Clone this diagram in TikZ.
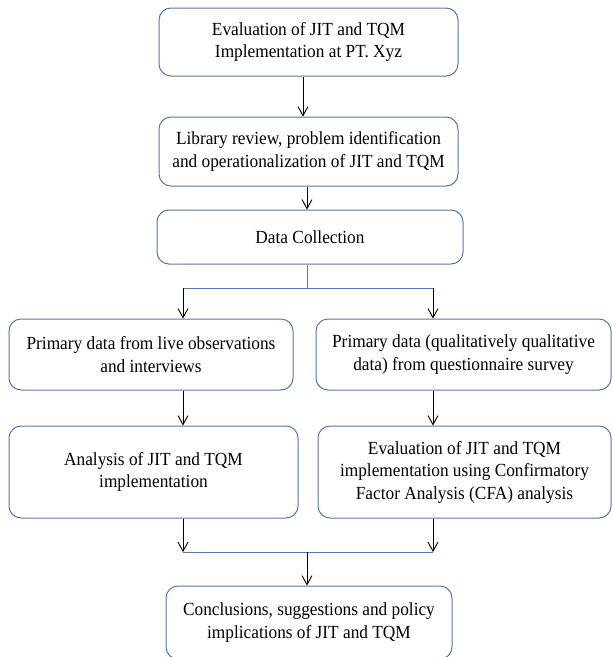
\documentclass[tikz,border=0pt]{standalone}
\usepackage{fontspec}
\newfontfamily\diagfont[FakeStretch=0.935]{Liberation Serif}
\usetikzlibrary{arrows.meta}
\definecolor{boxblue}{RGB}{84,120,170}
\begin{document}
\begin{tikzpicture}[x=1pt,y=-1pt,
  box/.style={draw=boxblue, line width=1pt, rounded corners=12pt, fill=white, align=center, inner sep=0pt, font=\diagfont\fontsize{18.5}{22.5}\selectfont},
  arr/.style={draw=black, line width=0.9pt, -{Straight Barb[length=9pt,width=10pt]}},
  bline/.style={draw=boxblue, line width=1pt}]
\useasboundingbox (0,0) rectangle (612,657);
\clip (0,0) rectangle (612,657);
\node[box, minimum width=299pt, minimum height=68pt] (b1) at (308.5,42) {Evaluation of JIT and TQM\\Implementation at PT. Xyz};
\node[box, minimum width=299pt, minimum height=69pt] (b2) at (308.5,151.5) {Library review, problem identification\\and operationalization of JIT and TQM};
\node[box, minimum width=306pt, minimum height=54pt] (b3) at (310,237) {Data Collection};
\node[box, minimum width=284pt, minimum height=71pt] (l1) at (151,354.5) {Primary data from live observations\\and interviews};
\node[box, minimum width=295pt, minimum height=71pt] (r1) at (463.5,354.5) {Primary data (qualitatively qualitative\\data) from questionnaire survey};
\node[box, minimum width=289pt, minimum height=92pt] (l2) at (153.5,472) {Analysis of JIT and TQM\\implementation};
\node[box, minimum width=293pt, minimum height=92pt] (r2) at (464.5,472) {Evaluation of JIT and TQM\\implementation using Confirmatory\\Factor Analysis (CFA) analysis};
\node[box, minimum width=286pt, minimum height=73pt] (b4) at (309,622.5) {Conclusions, suggestions and policy\\implications of JIT and TQM};

\draw[arr] ([xshift=-5.5pt]b1.south) -- ([xshift=-5.5pt]b1.south |- b2.north);
\draw[arr] ([xshift=-1.5pt]b2.south) -- ([xshift=-1.5pt]b2.south |- b3.north);

\coordinate (split) at (307,288);
\coordinate (sl) at (183,288);
\coordinate (sr) at (433,288);
\draw[bline] ([xshift=-3pt]b3.south) -- (split);
\draw[bline] (sl) -- (sr);
\draw[arr] (sl) -- (sl |- l1.north);
\draw[arr] (sr) -- (sr |- r1.north);
\draw[arr] (sl |- l1.south) -- (sl |- l2.north);
\draw[arr] (sr |- r1.south) -- (sr |- r2.north);

\coordinate (ml) at (183,552);
\coordinate (mr) at (433,552);
\coordinate (mc) at (307,552);
\draw[arr] (sl |- l2.south) -- (ml);
\draw[arr] (sr |- r2.south) -- (mr);
\draw[bline] (ml) -- (mr);
\draw[arr] (mc) -- (mc |- b4.north);
\end{tikzpicture}
\end{document}
